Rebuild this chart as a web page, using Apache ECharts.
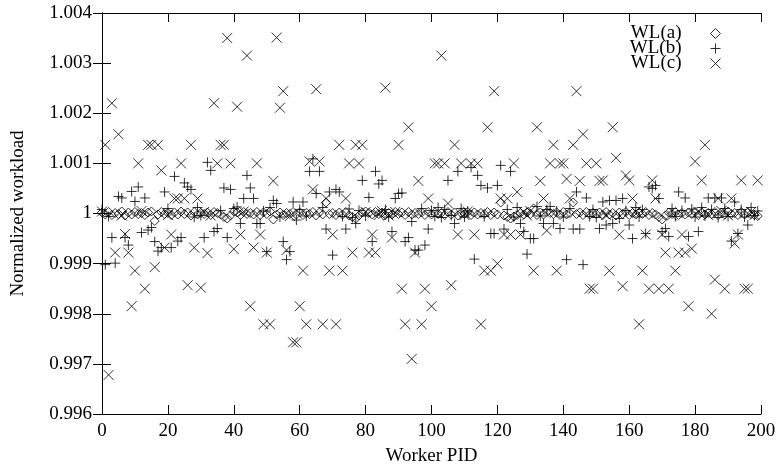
<!DOCTYPE html>
<html>
<head>
<meta charset="utf-8">
<script src="https://cdn.jsdelivr.net/npm/echarts@6/dist/echarts.min.js"></script>
<style>html,body{margin:0;padding:0;background:#fff}#chart{width:779px;height:471px}</style>
</head>
<body>
<div id="chart"></div>
<script>
// Worker PIDs are 0..199 (index of each value)
const seriesNames = ['WL(a)', 'WL(b)', 'WL(c)'];
const xTicks = [0, 20, 40, 60, 80, 100, 120, 140, 160, 180, 200];
const yTicks = [0.996, 0.997, 0.998, 0.999, 1, 1.001, 1.002, 1.003, 1.004];

const wlA = [
1.00002,0.99998,1.00003,0.99997,1.00001,0.99999,1.00004,0.99996,1.00002,0.99998,1.00003,0.99999,1.00001,0.99997,1.00002,1.00004,0.99985,0.99998,1.00003,0.99999,
1.00001,0.99997,1.00002,0.99998,1.00004,0.99999,1.00002,0.99996,1.00003,0.99998,1.00001,0.99999,1.00002,0.99997,1.00003,1.00001,0.99998,0.99993,0.9999,0.99996,
1.00004,1.00002,0.99997,1.00003,0.99999,1.00001,0.99998,1.00003,0.99997,1.00002,0.99999,1.00004,0.99988,0.99998,1.00002,0.99997,1.00001,0.99999,1.00003,0.99998,
1.00002,0.99997,1.00001,0.99999,1.00003,0.99996,1.00002,0.99998,1.00022,0.99999,1.00001,0.99997,1.00002,0.99998,1.00003,0.99996,0.99993,0.9999,0.99996,1.00002,
1.00004,1.00001,0.99998,1.00003,0.99999,1.00002,0.99997,1.00001,0.99998,1.00003,0.99999,1.00002,0.99997,1.00003,0.99998,1.00001,0.99999,1.00002,0.99997,1.00003,
0.99998,1.00002,0.99999,1.00001,0.99997,1.00003,0.99998,1.00002,0.99996,1.00001,0.99999,1.00003,0.99997,1.00002,0.99998,1.00001,0.99999,1.00003,0.99997,1.00002,
0.99998,1.00022,0.99996,0.99993,0.9999,0.99994,0.99997,1.00001,0.99998,1.00002,0.99999,1.0001,0.99997,1.00002,0.99998,1.00003,1.00001,0.99999,1.00002,0.99997,
1.00003,0.99998,1.00001,1.00022,0.99999,1.00002,0.99997,1.00003,0.99998,1.00001,0.99999,1.00002,0.99997,1.00003,0.99998,1.00001,0.99996,1.00002,0.99999,1.00003,
0.99997,1.00001,0.99998,1.00002,0.99999,1.00003,0.99997,1.00001,0.99998,0.99993,0.99988,0.99996,1.00002,0.99999,1.00003,0.99997,1.00001,0.99998,1.00002,0.99999,
1.00003,0.99997,1.00002,0.99998,1.00001,0.99999,1.00003,0.99997,1.00002,0.99998,1.00004,0.99999,1.00001,0.99997,1.00003,0.99998,1.00002,0.99999,0.99997,0.99995
];

const wlB = [
1.00008,0.99898,0.99994,0.99952,0.99901,1.00034,1.00031,0.99952,0.99937,1.00044,
1.00024,1.00053,0.99962,1.00031,0.99967,0.99972,0.99944,0.99925,0.99932,1.00043,
1.0001,0.99932,1.00074,0.99945,0.99952,1.00061,1.00053,1.00048,0.99993,1.00012,
0.99996,0.99952,1.00102,1.00086,0.99964,0.9997,1.00006,1.00051,0.99952,1.00048,
1.0001,1.00013,0.9998,1.0003,1.00076,1.00051,1.0003,0.9998,0.9998,1.00005,
0.99924,1.00012,1.00026,1.0002,0.99993,0.99944,0.99908,0.99924,1.00023,0.99987,
1.00008,1.00023,0.99995,1.00084,1.00109,1.0004,1.00084,1.00012,0.99969,1.00043,
0.99917,1.00048,1.00043,0.99994,0.99969,1.00009,0.99992,0.9998,1.00006,1.00066,
0.99995,1.00032,0.99944,1.00084,1.00059,1.00066,1.00008,0.99993,0.99964,1.0003,
1.0004,1.00041,0.99944,0.99952,0.99984,0.99927,0.99927,1.0001,0.99937,0.99969,
1.00006,0.99994,1.00012,0.99992,1.00008,1.00066,0.99996,0.9998,1.00084,1.0001,
0.99993,1.00005,1.00092,0.99909,1.00076,1.00056,0.99994,1.00051,0.9996,0.9996,
1.00056,1.00096,0.99969,1.00008,1.00084,0.99993,1.00012,0.9998,0.99964,0.99919,
0.9995,0.9995,1.00014,0.99995,0.9998,1.00008,1.00014,0.9998,1.00005,0.9997,
0.99993,0.99908,1.0001,0.99969,1.00043,0.99969,0.99898,1.00031,0.99994,1.00008,
0.99992,0.9997,1.00023,0.99977,1.00026,0.9998,1.00026,0.9999,1.0003,1.00006,
0.99977,0.9995,1.00012,0.99993,1.00008,0.9996,1.00053,1.0005,1.00056,1.0003,
0.99964,0.9997,0.99954,1.0001,0.99994,1.00043,1.00006,1.00031,0.99954,1.00009,
0.99993,0.99964,1.00012,0.99995,1.00031,1.00008,1.00031,0.99992,1.00031,1.0001,
0.99994,0.99945,1.00023,0.9996,1.00008,0.99993,0.99977,1.00012,0.99996,1.00005
];

const wlC = [
1.00004,1.00137,0.99678,1.0022,0.99922,1.00158,0.99996,0.99959,0.99922,0.99815,
0.99886,1.001,1.00005,0.9985,1.00137,1.00137,0.99893,1.00137,1.00086,0.99932,
0.99997,0.99958,1.0003,1.0003,1.001,1.0003,0.99857,1.00137,0.99932,1.0003,
0.99852,1.00003,0.99921,0.99996,1.0022,1.001,1.00137,1.00137,1.0035,1.001,
0.99929,1.00213,0.99958,1.00004,1.00315,0.99815,0.99932,1.001,0.99958,0.99779,
0.99922,0.99779,1.00065,1.00351,1.00211,1.00244,0.99927,0.99995,0.99743,0.99743,
0.99815,0.99886,0.99779,1.00104,1.00048,1.00248,1.00104,0.99779,1.0003,0.99886,
0.99958,0.99779,1.00137,0.99886,1.0003,1.001,0.99922,1.00137,1.001,1.00137,
1.00003,0.99922,0.99958,0.99922,0.99997,1.00005,1.00251,0.99996,0.99952,1.00003,
1.00137,0.9985,0.99779,1.00172,0.9971,0.99922,1.00065,0.99779,0.9985,1.0003,
0.99815,1.001,1.001,1.00315,1.001,1.0002,0.99857,1.00137,0.99958,1.001,
0.99997,1.00004,1.001,0.99958,1.001,0.99779,0.99886,1.00172,0.99886,1.00244,
0.999,1.0003,0.99958,1.0003,0.99958,1.001,1.00043,0.99958,1.00003,0.99996,
1.00005,0.99886,1.00172,1.00065,1.0003,0.99966,1.001,1.00137,0.99886,1.001,
1.001,1.00069,1.0003,1.00137,1.00244,1.00065,1.00158,1.001,0.9985,0.9985,
1.001,1.00065,1.00066,0.99997,0.99886,1.00172,1.00111,0.99958,0.99855,1.00076,
1.00066,1.0003,1.00004,0.99779,0.99886,0.99958,0.9985,1.00066,1.0003,0.9985,
0.99958,0.99922,0.9985,0.99996,0.99886,0.99922,0.99958,0.99922,0.99815,0.9993,
1.00104,1.00003,1.00066,1.00137,0.99997,0.998,0.99868,1.0003,1.00005,0.9985,
0.99996,1.0003,0.9994,0.99958,1.00066,0.9985,0.9985,1.00003,0.99997,1.00066
];

const FONT = 'Liberation Serif';
const toPts = arr => arr.map((v, i) => [i, v]);
const fmtY = v => String(parseFloat(Number(v).toFixed(3)));

const plusPath = 'path://M5,0L5,10M0,5L10,5';
const crossPath = 'path://M0,0L10,10M10,0L0,10';

const axisLine = { show: true, lineStyle: { color: '#000', width: 1 } };
const tick = { show: true, inside: true, length: 9, lineStyle: { color: '#000', width: 1 } };
const labelStyle = { fontFamily: FONT, fontSize: 19, color: '#000' };

const chart = echarts.init(document.getElementById('chart'), null, { renderer: 'canvas' });
chart.setOption({
  animation: false,
  backgroundColor: '#fff',
  grid: { left: 102, right: 18, top: 13, bottom: 54, containLabel: false },
  legend: {
    orient: 'vertical',
    right: 58,
    top: 24,
    padding: 0,
    itemGap: -4,
    itemWidth: 10,
    itemHeight: 10,
    align: 'right',
    selectedMode: false,
    textStyle: { fontFamily: FONT, fontSize: 19, color: '#000', padding: [0, 24, 0, 0] },
    data: [
      { name: seriesNames[0], icon: 'diamond', itemStyle: { color: 'rgba(0,0,0,0)', borderColor: '#000', borderWidth: 1 } },
      { name: seriesNames[1], icon: plusPath, itemStyle: { color: 'rgba(0,0,0,0)', borderColor: '#000', borderWidth: 1 } },
      { name: seriesNames[2], icon: crossPath, itemStyle: { color: 'rgba(0,0,0,0)', borderColor: '#000', borderWidth: 1 } }
    ]
  },
  xAxis: [
    {
      type: 'value', min: xTicks[0], max: xTicks[xTicks.length - 1], interval: 20,
      name: 'Worker PID', nameLocation: 'middle', nameGap: 33,
      nameTextStyle: { fontFamily: FONT, fontSize: 19, color: '#000' },
      axisLine, axisTick: tick, splitLine: { show: false },
      axisLabel: Object.assign({ margin: 8 }, labelStyle)
    },
    {
      type: 'value', position: 'top', min: xTicks[0], max: xTicks[xTicks.length - 1], interval: 20,
      axisLine, axisTick: tick, splitLine: { show: false }, axisLabel: { show: false }
    }
  ],
  yAxis: [
    {
      type: 'value', min: yTicks[0], max: yTicks[yTicks.length - 1], interval: 0.001,
      name: 'Normalized workload', nameLocation: 'middle', nameGap: 74,
      nameTextStyle: { fontFamily: FONT, fontSize: 19, color: '#000' },
      axisLine, axisTick: tick, splitLine: { show: false },
      axisLabel: Object.assign({ margin: 10, formatter: fmtY }, labelStyle)
    },
    {
      type: 'value', position: 'right', min: yTicks[0], max: yTicks[yTicks.length - 1], interval: 0.001,
      axisLine, axisTick: tick, splitLine: { show: false }, axisLabel: { show: false }
    }
  ],
  series: [
    {
      name: seriesNames[0], type: 'scatter', xAxisIndex: 0, yAxisIndex: 0,
      symbol: 'diamond', symbolSize: 9,
      itemStyle: { color: 'rgba(0,0,0,0)', borderColor: '#000', borderWidth: 1 },
      emphasis: { disabled: true },
      data: toPts(wlA)
    },
    {
      name: seriesNames[1], type: 'scatter', xAxisIndex: 0, yAxisIndex: 0,
      symbol: plusPath, symbolSize: 10,
      itemStyle: { color: 'rgba(0,0,0,0)', borderColor: '#000', borderWidth: 1 },
      emphasis: { disabled: true },
      data: toPts(wlB)
    },
    {
      name: seriesNames[2], type: 'scatter', xAxisIndex: 0, yAxisIndex: 0,
      symbol: crossPath, symbolSize: 10,
      itemStyle: { color: 'rgba(0,0,0,0)', borderColor: '#000', borderWidth: 1 },
      emphasis: { disabled: true },
      data: toPts(wlC)
    }
  ]
});
</script>
</body>
</html>
